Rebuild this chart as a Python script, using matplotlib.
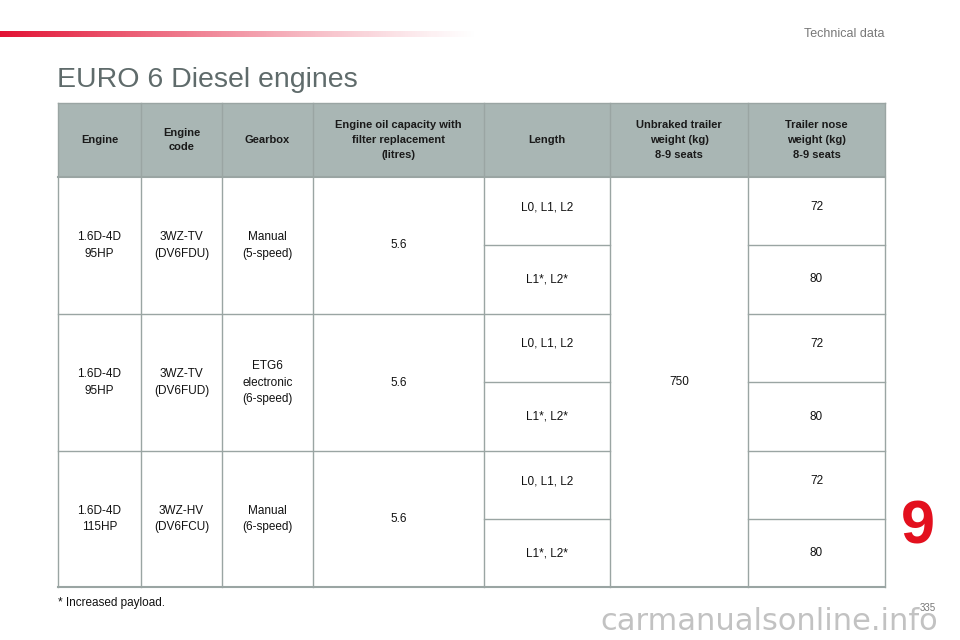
import matplotlib
matplotlib.use("Agg")
import matplotlib.pyplot as plt
from matplotlib.patches import Rectangle
import numpy as np

title = "EURO 6 Diesel engines"
headers = ["Engine", "Engine\ncode", "Gearbox", "Engine oil capacity with\nfilter replacement\n(litres)",
           "Length", "Unbraked trailer\nweight (kg)\n8-9 seats", "Trailer nose\nweight (kg)\n8-9 seats"]
engines = ["1.6D-4D\n95HP", "1.6D-4D\n95HP", "1.6D-4D\n115HP"]
codes = ["3WZ-TV\n(DV6FDU)", "3WZ-TV\n(DV6FUD)", "3WZ-HV\n(DV6FCU)"]
gearboxes = ["Manual\n(5-speed)", "ETG6\nelectronic\n(6-speed)", "Manual\n(6-speed)"]
oil = ["5.6", "5.6", "5.6"]
lengths = ["L0, L1, L2", "L1*, L2*"]
unbraked = "750"
nose = [72, 80, 72, 80, 72, 80]

W, H = 960, 640
fig = plt.figure(figsize=(9.6, 6.4), dpi=100)
ax = fig.add_axes([0, 0, 1, 1])
ax.set_xlim(0, W); ax.set_ylim(H, 0); ax.axis("off")
font = "Liberation Sans"
grid = "#9aa5a3"

grad = np.linspace(0, 1, 256)
cols = np.zeros((1, 256, 4))
cols[..., 0] = 0.89; cols[..., 1] = 0.07; cols[..., 2] = 0.2
cols[..., 3] = (1 - grad) ** 1.2
ax.imshow(cols, extent=(0, 480, 37, 31), aspect="auto", zorder=1)
ax.set_xlim(0, W); ax.set_ylim(H, 0)

ax.text(884, 34, "Technical data", ha="right", va="center", fontsize=9, color="#777777", family=font)
ax.text(57, 80, title, ha="left", va="center", fontsize=20.5, color="#5f6b6b", family=font)

xs = [58, 141, 222, 313, 484, 610, 748, 885]
ys = [103, 177, 245, 314, 382, 451, 519, 587]

ax.add_patch(Rectangle((xs[0], ys[0]), xs[-1]-xs[0], ys[1]-ys[0], facecolor="#a9b6b4", edgecolor="none"))
for i, h in enumerate(headers):
    ax.text((xs[i]+xs[i+1])/2, (ys[0]+ys[1])/2, h, ha="center", va="center", fontsize=8,
            fontweight="bold", color="#1a1a1a", family=font, linespacing=1.6)

lw = 1.0
for x in xs:
    ax.plot([x, x], [ys[0], ys[-1]], color=grid, lw=lw)
ax.plot([xs[0], xs[-1]], [ys[0], ys[0]], color=grid, lw=lw)
ax.plot([xs[0], xs[-1]], [ys[1], ys[1]], color=grid, lw=1.5)
ax.plot([xs[0], xs[-1]], [ys[-1], ys[-1]], color=grid, lw=1.5)
for g in (3, 5):
    ax.plot([xs[0], xs[5]], [ys[g], ys[g]], color=grid, lw=lw)
    ax.plot([xs[6], xs[7]], [ys[g], ys[g]], color=grid, lw=lw)
for s in (2, 4, 6):
    ax.plot([xs[4], xs[5]], [ys[s], ys[s]], color=grid, lw=lw)
    ax.plot([xs[6], xs[7]], [ys[s], ys[s]], color=grid, lw=lw)

kw = dict(ha="center", va="center", fontsize=8.5, color="#111111", family=font, linespacing=1.5)
for g in range(3):
    yc = (ys[1+2*g] + ys[3+2*g]) / 2
    ax.text((xs[0]+xs[1])/2, yc, engines[g], **kw)
    ax.text((xs[1]+xs[2])/2, yc, codes[g], **kw)
    ax.text((xs[2]+xs[3])/2, yc, gearboxes[g], **kw)
    ax.text((xs[3]+xs[4])/2, yc, oil[g], **kw)
for r in range(6):
    yc = (ys[1+r] + ys[2+r]) / 2
    ax.text((xs[4]+xs[5])/2, yc - (4 if r % 2 == 0 else 0), lengths[r % 2], **kw)
    ax.text((xs[6]+xs[7])/2, yc - (4 if r % 2 == 0 else 0), str(nose[r]), **kw)
ax.text((xs[5]+xs[6])/2, (ys[1]+ys[-1])/2, unbraked, **kw)

ax.text(58, 603, "* Increased payload.", ha="left", va="center", fontsize=8.5, color="#111111", family=font)
ax.text(918, 528, "9", ha="center", va="center", fontsize=44, fontweight="bold", color="#e3101e", family=font)
ax.text(936, 608, "335", ha="right", va="center", fontsize=7, color="#777777", family=font)
ax.text(938, 622, "carmanualsonline.info", ha="right", va="center", fontsize=22, color="#9a9a9a", alpha=0.6, family="DejaVu Sans")

fig.savefig("out.png", dpi=100)
